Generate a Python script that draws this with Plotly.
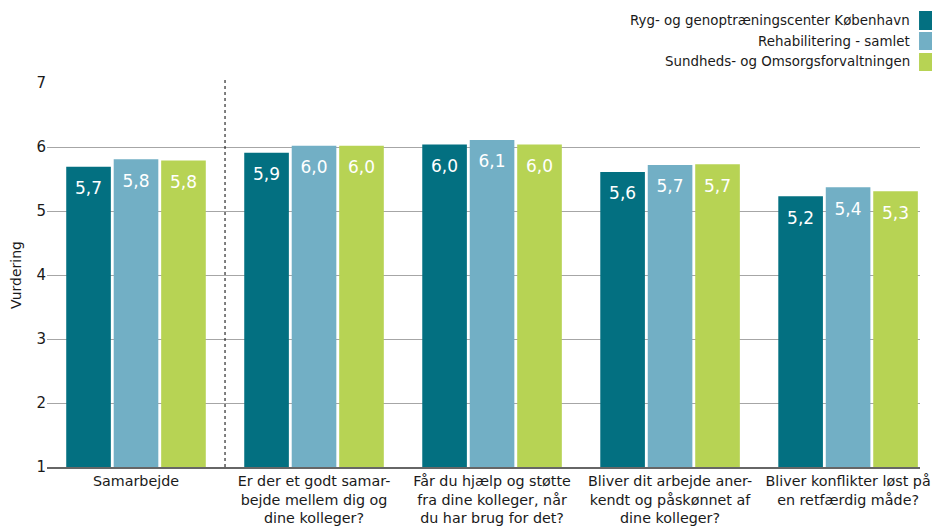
import plotly.graph_objects as go

categories = [
    "Samarbejde",
    "Er der et godt samar-<br>bejde mellem dig og<br>dine kolleger?",
    "Får du hjælp og støtte<br>fra dine kolleger, når<br>du har brug for det?",
    "Bliver dit arbejde aner-<br>kendt og påskønnet af<br>dine kolleger?",
    "Bliver konflikter løst på<br>en retfærdig måde?",
]
series_names = [
    "Ryg- og genoptræningscenter København",
    "Rehabilitering - samlet",
    "Sundheds- og Omsorgsforvaltningen",
]
ryg = [5.69, 5.91, 6.04, 5.61, 5.23]
rehab = [5.81, 6.02, 6.11, 5.72, 5.37]
sof = [5.79, 6.02, 6.04, 5.73, 5.31]
series_values = [ryg, rehab, sof]
colors = ["#037081", "#72AFC5", "#B7D354"]
y_ticks = [1, 2, 3, 4, 5, 6, 7]

FONT = "DejaVu Sans"

fig = go.Figure()
for name, vals, col in zip(series_names, series_values, colors):
    fig.add_trace(go.Bar(
        x=categories, y=vals, name=name, marker=dict(color=col, line=dict(width=0)),
        offsetgroup=name, showlegend=False, hoverinfo="skip",
    ))
for name, vals, col in zip(series_names, series_values, colors):
    fig.add_trace(go.Scatter(
        x=categories, y=vals, mode="markers+text", offsetgroup=name,
        marker=dict(size=22, opacity=0), texttemplate="%{y:.1f}",
        textposition="bottom center", textfont=dict(family=FONT, size=17, color="white"),
        showlegend=False, hoverinfo="skip", cliponaxis=False,
    ))

# custom legend (text right-aligned, swatch on the right)
text_y = [1.164, 1.109, 1.0547]
sw_y = [(1.138, 1.1875), (1.0859, 1.1328), (1.03125, 1.0781)]
for name, col, ty, (y0, y1) in zip(series_names, colors, text_y, sw_y):
    fig.add_annotation(
        x=0.9908, y=ty, xref="paper", yref="paper", text=name, showarrow=False,
        xanchor="right", yanchor="middle", font=dict(family=FONT, size=13.4, color="#1a1a1a"),
    )
    fig.add_shape(type="rect", xref="paper", yref="paper", x0=0.9989, x1=1.0149,
                  y0=y0, y1=y1, fillcolor=col, line=dict(width=0))

fig.add_shape(type="line", xref="x", yref="paper", x0=0.5, x1=0.5, y0=0, y1=1.01,
              line=dict(color="black", width=1, dash="dot"))

fig.update_layout(
    width=932, height=532,
    margin=dict(l=47, r=12, t=83, b=65),
    paper_bgcolor="white", plot_bgcolor="white",
    barmode="group", bargap=0.2, bargroupgap=0.06,
    scattermode="group",
    separators=", ",
    font=dict(family=FONT, size=14, color="#1a1a1a"),
    showlegend=False,
)
fig.update_xaxes(
    range=[-0.5, 4.404],
    showline=True, linecolor="#666666", linewidth=1.5, ticks="", automargin=False,
    tickfont=dict(family=FONT, size=14.3, color="#1a1a1a"), showgrid=False,
)
fig.update_yaxes(
    range=[1, 7], tickvals=y_ticks, showgrid=True, gridcolor="#A6A6A6", gridwidth=1,
    zeroline=False, showline=False, ticks="", automargin=False,
    tickfont=dict(family=FONT, size=15, color="#1a1a1a"),
    title=dict(text="Vurdering", font=dict(family=FONT, size=14, color="#1a1a1a"), standoff=11),
)

fig.write_html("out.html")
